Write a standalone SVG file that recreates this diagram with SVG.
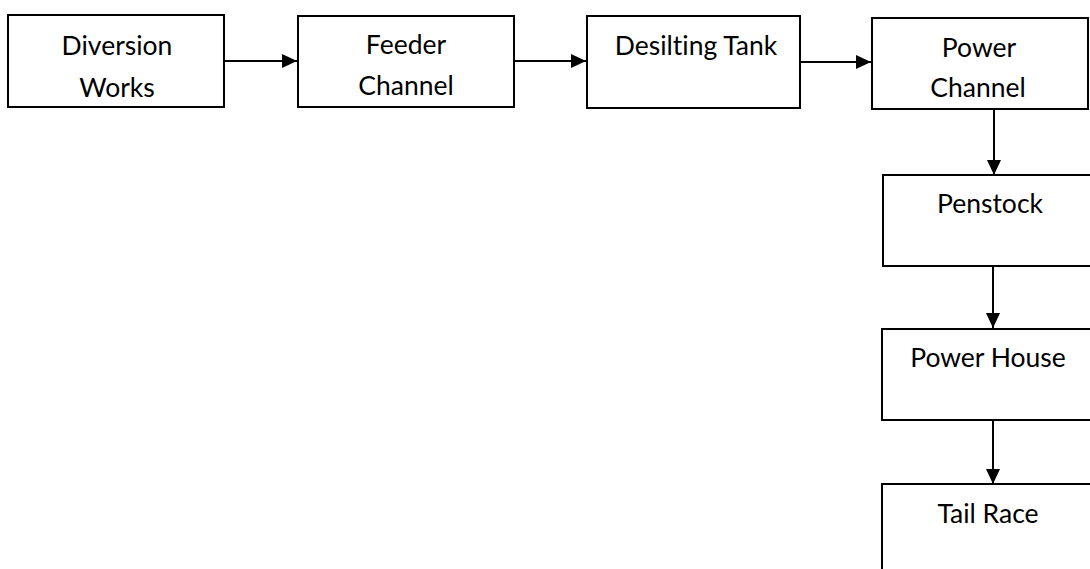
<svg xmlns="http://www.w3.org/2000/svg" width="1090" height="569" viewBox="0 0 1090 569">
  <defs>
    <style>
      .box { fill: #ffffff; stroke: #000000; stroke-width: 2; }
      .label { font-family: Lato, "Liberation Sans", sans-serif; font-size: 26.5px; fill: #000000; text-anchor: middle; font-variant-ligatures: none; font-feature-settings: "liga" 0; }
      .link { stroke: #000000; stroke-width: 2; fill: none; marker-end: url(#head); }
    </style>
    <marker id="head" viewBox="0 0 15 14" refX="15" refY="7" markerWidth="15" markerHeight="14" markerUnits="userSpaceOnUse" orient="auto">
      <path d="M0,0 L15,7 L0,14 Z" fill="#000000"/>
    </marker>
  </defs>
  <rect width="1090" height="569" fill="#ffffff"/>

  <g id="connectors">
    <line class="link" x1="225" y1="61" x2="297" y2="61"/>
    <line class="link" x1="515" y1="61" x2="586" y2="61"/>
    <line class="link" x1="801" y1="62" x2="871" y2="62"/>
    <line class="link" x1="994" y1="110" x2="994" y2="175"/>
    <line class="link" x1="993" y1="267" x2="993" y2="328"/>
    <line class="link" x1="993" y1="421" x2="993" y2="484"/>
  </g>

  <g id="diversion-works">
    <rect class="box" x="8" y="15" width="216" height="92"/>
    <text class="label" x="117" y="55">Diversion</text>
    <text class="label" x="117" y="97">Works</text>
  </g>

  <g id="feeder-channel">
    <rect class="box" x="298" y="16" width="216" height="91"/>
    <text class="label" x="406" y="54">Feeder</text>
    <text class="label" x="406" y="95">Channel</text>
  </g>

  <g id="desilting-tank">
    <rect class="box" x="587" y="16" width="213" height="92"/>
    <text class="label" x="696" y="55">Desilting Tank</text>
  </g>

  <g id="power-channel">
    <rect class="box" x="872" y="18" width="216" height="91"/>
    <text class="label" x="979" y="57">Power</text>
    <text class="label" x="978" y="97">Channel</text>
  </g>

  <g id="penstock">
    <rect class="box" x="883" y="175" width="220" height="91"/>
    <text class="label" x="990" y="213">Penstock</text>
  </g>

  <g id="power-house">
    <rect class="box" x="882" y="329" width="220" height="91"/>
    <text class="label" x="988" y="367">Power House</text>
  </g>

  <g id="tail-race">
    <rect class="box" x="882" y="484" width="220" height="100"/>
    <text class="label" x="988" y="523">Tail Race</text>
  </g>
</svg>
